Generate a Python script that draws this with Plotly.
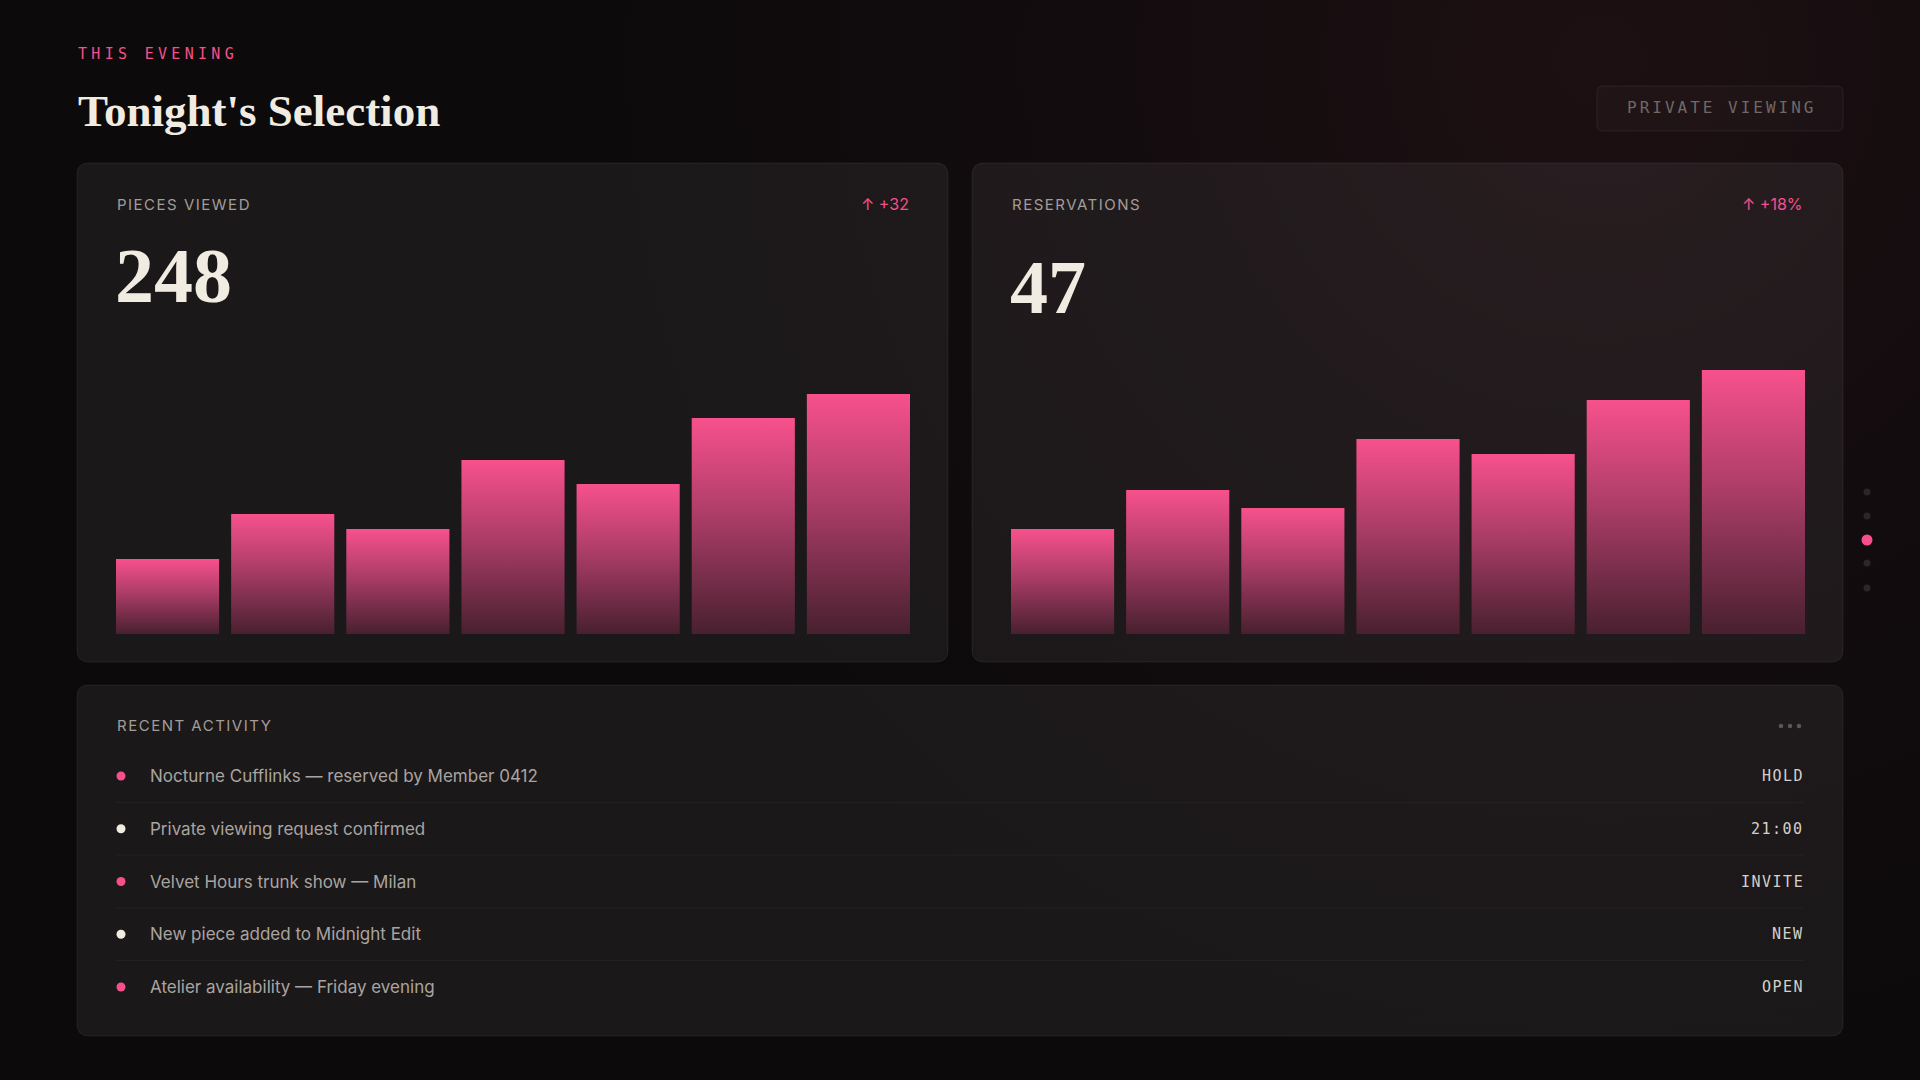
import base64
import plotly.graph_objects as go

W, H = 1920, 1080

# ---------------- data ----------------
days = [0, 1, 2, 3, 4, 5, 6]
pieces_viewed = [25, 40, 35, 58, 50, 72, 80]
reservations = [35, 48, 42, 65, 60, 78, 88]
pieces_total = "248"
reservations_total = "47"
pieces_delta = "↑ +32"
reservations_delta = "↑ +18%"

activity_items = [
    "Nocturne Cufflinks — reserved by Member 0412",
    "Private viewing request confirmed",
    "Velvet Hours trunk show — Milan",
    "New piece added to Midnight Edit",
    "Atelier availability — Friday evening",
]
activity_tags = ["HOLD", "21:00", "INVITE", "NEW", "OPEN"]
activity_kinds = ["accent", "light", "accent", "light", "accent"]

# ---------------- style ----------------
PINK = "#f5508b"
CREAM = "#f1ece1"
BG = "#0c0a0b"
SANS = "Inter"
SERIF = "Liberation Serif"
MONO = "DejaVu Sans Mono"
BAR_BOTTOM = "#48202f"
BAR_TOP = "#f7518c"


def X(px):
    return px / W


def Y(py):
    return 1 - py / H


def rr_path(x0, y0, x1, y1, r):
    pts = [
        ("M", [(x0 + r, y0)]), ("L", [(x1 - r, y0)]), ("Q", [(x1, y0), (x1, y0 + r)]),
        ("L", [(x1, y1 - r)]), ("Q", [(x1, y1), (x1 - r, y1)]), ("L", [(x0 + r, y1)]),
        ("Q", [(x0, y1), (x0, y1 - r)]), ("L", [(x0, y0 + r)]), ("Q", [(x0, y0), (x0 + r, y0)]),
    ]
    s = ""
    for cmd, ps in pts:
        s += cmd + " " + " ".join(f"{X(a):.6f},{Y(b):.6f}" for a, b in ps) + " "
    return s + "Z"


def spaced(t, ls):
    return f'<span style="letter-spacing:{ls}px">{t}</span>'


annotations = []


def txt(x, y, t, size, color, family=SANS, xanchor="left", weight=None):
    f = dict(size=size, color=color, family=family)
    if weight:
        f["weight"] = weight
    annotations.append(dict(
        x=X(x), y=Y(y), xref="paper", yref="paper", text=t, showarrow=False,
        xanchor=xanchor, yanchor="middle", font=f, borderpad=0,
    ))


shapes = []


def card(x0, y0, x1, y1, r=12, fill="rgba(255,255,255,0.058)", line="rgba(255,255,255,0.07)"):
    shapes.append(dict(type="path", path=rr_path(x0, y0, x1, y1, r), xref="paper", yref="paper",
                       fillcolor=fill, line=dict(color=line, width=1), layer="below"))


def dot(cx, cy, d, color):
    shapes.append(dict(type="circle", xref="paper", yref="paper",
                       x0=X(cx - d / 2), x1=X(cx + d / 2), y0=Y(cy + d / 2), y1=Y(cy - d / 2),
                       fillcolor=color, line=dict(width=0), layer="above"))


def hline(x0, x1, y, color):
    shapes.append(dict(type="line", xref="paper", yref="paper", x0=X(x0), x1=X(x1), y0=Y(y), y1=Y(y),
                       line=dict(color=color, width=1), layer="below"))


# ---------------- background ----------------
svg = f'''<svg xmlns="http://www.w3.org/2000/svg" width="{W}" height="{H}" viewBox="0 0 {W} {H}">
<defs>
<radialGradient id="g1" cx="1600" cy="60" r="1050" gradientUnits="userSpaceOnUse">
<stop offset="0" stop-color="#1f1013" stop-opacity="0.9"/>
<stop offset="0.55" stop-color="#190e11" stop-opacity="0.45"/>
<stop offset="1" stop-color="#140c0e" stop-opacity="0"/>
</radialGradient>
</defs>
<rect width="{W}" height="{H}" fill="{BG}"/>
<rect width="{W}" height="{H}" fill="url(#g1)"/>
</svg>'''
bg_src = "data:image/svg+xml;base64," + base64.b64encode(svg.encode()).decode()

# ---------------- cards ----------------
card(77, 163, 948, 662)
card(972, 163, 1843, 662)
card(77, 685, 1843, 1036)
# private viewing button
card(1597, 86, 1843, 131, r=6, fill="rgba(255,255,255,0.025)", line="rgba(255,255,255,0.07)")

# ---------------- header ----------------
txt(77, 54, spaced("THIS EVENING", 4.3), 15, PINK, MONO)
txt(77, 111, "Tonight's Selection", 45, CREAM, SERIF, weight="bold")
txt(1722, 108, spaced("PRIVATE VIEWING", 3), 16, "#6f6866", MONO, xanchor="center")

# ---------------- KPI cards ----------------
txt(116, 204, spaced("PIECES VIEWED", 1.5), 15, "#a39d99")
txt(910, 204, pieces_delta, 16, PINK, xanchor="right")
txt(114, 275, pieces_total, 78, CREAM, SERIF, weight="bold")

txt(1011, 204, spaced("RESERVATIONS", 1.5), 15, "#a39d99")
txt(1804, 204, reservations_delta, 16, PINK, xanchor="right")
txt(1009, 287, reservations_total, 76, CREAM, SERIF, weight="bold")

# ---------------- bars ----------------
PLOT_W = 794
GAP = 12
bar_px = (PLOT_W - 6 * GAP) / 7
pitch_px = bar_px + GAP
BAR_W = bar_px / pitch_px

traces = []


def add_bars(vals, xa, ya):
    half = BAR_W / 2
    for i, v in zip(days, vals):
        traces.append(go.Scatter(
            x=[i - half, i - half, i + half, i + half, i - half],
            y=[0, v, v, 0, 0],
            mode="lines", line=dict(width=0, color=BAR_TOP), fill="toself",
            fillgradient=dict(type="vertical", colorscale=[[0, BAR_BOTTOM], [0.55, "#ac3d67"], [1, BAR_TOP]]),
            xaxis=xa, yaxis=ya, hoverinfo="skip", showlegend=False,
        ))


add_bars(pieces_viewed, "x", "y")
add_bars(reservations, "x2", "y2")

xr = [-BAR_W / 2, 6 + BAR_W / 2]
ydom = [Y(634), Y(334)]
axis_off = dict(visible=False, showgrid=False, zeroline=False, fixedrange=True)

# ---------------- activity ----------------
txt(116, 725, spaced("RECENT ACTIVITY", 1.5), 15, "#a39d99")
for k in range(3):
    dot(1781 + 9 * k, 726, 4.5, "#5c5656")

row_y0 = 776
row_h = 52.75
for i, (item, tag, kind) in enumerate(zip(activity_items, activity_tags, activity_kinds)):
    yy = row_y0 + i * row_h
    dot(121, yy, 9, PINK if kind == "accent" else CREAM)
    txt(149, yy, item, 17, "#aaa4a0")
    txt(1805, yy, spaced(tag, 1.5), 15, "#d6d0c8", MONO, xanchor="right")
    if i < len(activity_items) - 1:
        hline(116, 1804, yy + row_h / 2, "rgba(255,255,255,0.045)")

# ---------------- side nav dots ----------------
nav_y = [492, 516, 540, 563, 588]
for j, ny in enumerate(nav_y):
    if j == 2:
        dot(1867, ny, 11, PINK)
    else:
        dot(1867, ny, 7, "#2b2727")

fig = go.Figure(traces)
fig.update_layout(
    width=W, height=H, margin=dict(l=0, r=0, t=0, b=0),
    paper_bgcolor=BG, plot_bgcolor="rgba(0,0,0,0)",
    showlegend=False,
    xaxis=dict(domain=[X(116), X(910)], range=xr, **axis_off),
    yaxis=dict(domain=ydom, range=[0, 100], **axis_off),
    xaxis2=dict(domain=[X(1011), X(1805)], range=xr, anchor="y2", **axis_off),
    yaxis2=dict(domain=ydom, range=[0, 100], anchor="x2", **axis_off),
    shapes=shapes,
    annotations=annotations,
    images=[dict(source=bg_src, xref="paper", yref="paper", x=0, y=1, sizex=1, sizey=1,
                 sizing="stretch", layer="below", xanchor="left", yanchor="top")],
    hovermode=False,
)
fig.write_html("out.html", config={"displayModeBar": False})
